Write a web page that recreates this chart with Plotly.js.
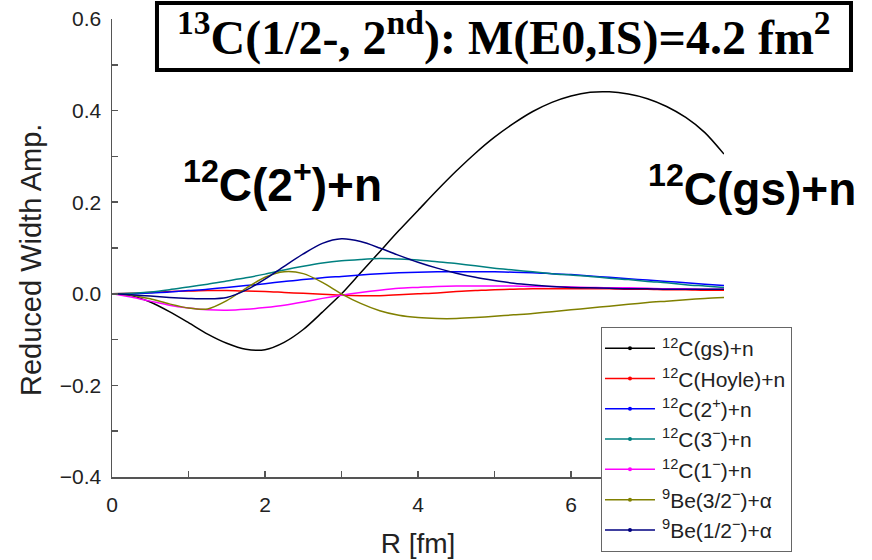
<!DOCTYPE html>
<html>
<head>
<meta charset="utf-8">
<script src="https://cdn.plot.ly/plotly-3.0.1.min.js"></script>
<style>
  html, body { margin: 0; padding: 0; background: #ffffff; }
  #chart { width: 872px; height: 560px; }
</style>
</head>
<body>
<div id="chart"></div>
<script>
// Radial grid R [fm]
const rGrid = [0, 0.25, 0.5, 0.75, 1.0, 1.25, 1.5, 1.75, 2.0, 2.25, 2.5, 2.75,
  3.0, 3.25, 3.5, 3.75, 4.0, 4.25, 4.5, 4.75, 5.0, 5.25, 5.5, 5.75,
  6.0, 6.25, 6.5, 6.75, 7.0, 7.25, 7.5, 7.75, 8.0];

// Reduced width amplitudes for each channel
const c12gs = [0, -0.004, -0.018, -0.039, -0.063, -0.088, -0.108, -0.121, -0.122, -0.106, -0.078, -0.040,
  0.0, 0.046, 0.092, 0.138, 0.182, 0.226, 0.268, 0.307, 0.342, 0.372, 0.398, 0.418,
  0.432, 0.440, 0.441, 0.436, 0.426, 0.409, 0.385, 0.352, 0.305];
const c12hoyle = [0, 0.001, 0.003, 0.005, 0.006, 0.007, 0.007, 0.006, 0.005, 0.003, 0.001, -0.001,
  -0.003, -0.004, -0.004, -0.002, 0.0, 0.002, 0.005, 0.007, 0.009, 0.010, 0.011, 0.011,
  0.011, 0.011, 0.011, 0.010, 0.010, 0.009, 0.009, 0.008, 0.008];
const c12two = [0, 0.0, 0.002, 0.004, 0.007, 0.010, 0.014, 0.018, 0.022, 0.027, 0.031, 0.035,
  0.038, 0.041, 0.044, 0.046, 0.047, 0.048, 0.048, 0.048, 0.048, 0.047, 0.046, 0.044,
  0.042, 0.039, 0.036, 0.033, 0.030, 0.027, 0.024, 0.021, 0.018];
const c12three = [0, 0.001, 0.004, 0.009, 0.015, 0.021, 0.028, 0.035, 0.043, 0.052, 0.060, 0.067,
  0.072, 0.075, 0.077, 0.076, 0.074, 0.070, 0.066, 0.061, 0.056, 0.052, 0.048, 0.044,
  0.041, 0.038, 0.034, 0.031, 0.027, 0.024, 0.020, 0.017, 0.014];
const c12one = [0, -0.007, -0.016, -0.025, -0.031, -0.035, -0.036, -0.034, -0.030, -0.025, -0.018, -0.010,
  -0.003, 0.003, 0.008, 0.012, 0.014, 0.016, 0.017, 0.017, 0.017, 0.017, 0.016, 0.016,
  0.015, 0.014, 0.013, 0.013, 0.012, 0.011, 0.011, 0.010, 0.010];
const be9three = [0, -0.003, -0.011, -0.022, -0.031, -0.033, -0.015, 0.012, 0.036, 0.048, 0.044, 0.025,
  0.0, -0.021, -0.037, -0.047, -0.052, -0.054, -0.054, -0.052, -0.049, -0.046, -0.043, -0.039,
  -0.035, -0.031, -0.027, -0.023, -0.019, -0.016, -0.013, -0.010, -0.008];
const be9one = [0, -0.002, -0.005, -0.008, -0.010, -0.011, -0.008, 0.008, 0.032, 0.060, 0.087, 0.110,
  0.120, 0.114, 0.100, 0.084, 0.069, 0.056, 0.045, 0.036, 0.029, 0.023, 0.019, 0.016,
  0.014, 0.013, 0.012, 0.011, 0.011, 0.010, 0.010, 0.010, 0.010];

const channelNames = [
  '<sup>12</sup>C(gs)+n',
  '<sup>12</sup>C(Hoyle)+n',
  '<sup>12</sup>C(2<sup>+</sup>)+n',
  '<sup>12</sup>C(3<sup>\u2212</sup>)+n',
  '<sup>12</sup>C(1<sup>\u2212</sup>)+n',
  '<sup>9</sup>Be(3/2<sup>\u2212</sup>)+\u03b1',
  '<sup>9</sup>Be(1/2<sup>\u2212</sup>)+\u03b1'
];
const channelValues = [c12gs, c12hoyle, c12two, c12three, c12one, be9three, be9one];
const channelColors = ['#000000', '#ff0000', '#0000ff', '#008080', '#ff00ff', '#808000', '#000080'];

const xTickVals = [0, 2, 4, 6];
const yTickVals = [-0.4, -0.2, 0.0, 0.2, 0.4, 0.6];

const traces = channelNames.map((name, i) => ({
  type: 'scatter',
  mode: 'lines',
  x: rGrid,
  y: channelValues[i],
  name: name,
  legendgroup: 'g' + i,
  line: { color: channelColors[i], width: 1.5, shape: 'spline', smoothing: 0.8 }
}));

const axisColor = '#555555';
const layout = {
  width: 872,
  height: 560,
  margin: { l: 112, r: 148, t: 19, b: 83, autoexpand: false },
  paper_bgcolor: '#ffffff',
  plot_bgcolor: '#ffffff',
  showlegend: true,
  font: { family: 'Liberation Sans, Arial, sans-serif', color: '#222222' },
  xaxis: {
    range: [0, 8],
    tickmode: 'array',
    tickvals: xTickVals,
    ticks: 'inside',
    ticklen: 6,
    tickwidth: 1.5,
    tickcolor: axisColor,
    minor: { dtick: 1, tick0: 0, ticks: 'inside', ticklen: 6, tickwidth: 1.5, tickcolor: axisColor },
    showline: true,
    linecolor: axisColor,
    linewidth: 1.5,
    showgrid: false,
    zeroline: false,
    tickfont: { size: 21, color: '#222222' },
    ticklabelstandoff: 8,
    title: { text: 'R [fm]', font: { size: 28, color: '#222222' }, standoff: 18 }
  },
  yaxis: {
    range: [-0.4, 0.6],
    tickmode: 'array',
    tickvals: yTickVals,
    tickformat: '.1f',
    ticks: 'inside',
    ticklen: 6,
    tickwidth: 1.5,
    tickcolor: axisColor,
    minor: { dtick: 0.1, tick0: 0, ticks: 'inside', ticklen: 6, tickwidth: 1.5, tickcolor: axisColor },
    showline: true,
    linecolor: axisColor,
    linewidth: 1.5,
    showgrid: false,
    zeroline: false,
    tickfont: { size: 21, color: '#222222' },
    ticklabelstandoff: 5
  },
  legend: {
    x: 0.799,
    y: 0.3275,
    xanchor: 'left',
    yanchor: 'top',
    bgcolor: '#ffffff',
    bordercolor: '#666666',
    borderwidth: 1,
    itemwidth: 50,
    tracegroupgap: 0,
    font: { size: 21, color: '#222222' }
  },
  shapes: [{
    type: 'rect',
    xref: 'paper', yref: 'paper',
    x0: 0.0735, x1: 1.2075, y0: 0.8886, y1: 1.035,
    line: { color: '#000000', width: 4 },
    fillcolor: '#ffffff',
    layer: 'above'
  }],
  annotations: [
    {
      xref: 'paper', yref: 'paper',
      x: 0.6405, y: 0.966,
      xanchor: 'center', yanchor: 'middle',
      showarrow: false,
      text: '<sup>13</sup>C(1/2-, 2<sup>nd</sup>): M(E0,IS)=4.2 fm<sup>2</sup>',
      font: { family: 'Liberation Serif, Times New Roman, serif', size: 48, color: '#000000', weight: 'bold' }
    },
    {
      xref: 'paper', yref: 'paper',
      x: (282 - 112) / 612, y: (477 - 182) / 458,
      xanchor: 'center', yanchor: 'middle',
      showarrow: false,
      text: '<sup>12</sup>C(2<sup>+</sup>)+n',
      font: { family: 'Liberation Sans, Arial, sans-serif', size: 46, color: '#000000', weight: 'bold' }
    },
    {
      xref: 'paper', yref: 'paper',
      x: (752 - 112) / 612, y: (477 - 186) / 458,
      xanchor: 'center', yanchor: 'middle',
      showarrow: false,
      text: '<sup>12</sup>C(gs)+n',
      font: { family: 'Liberation Sans, Arial, sans-serif', size: 46, color: '#000000', weight: 'bold' }
    },
    {
      xref: 'paper', yref: 'paper',
      x: (31 - 112) / 612, y: (477 - 260) / 458,
      xanchor: 'center', yanchor: 'middle',
      showarrow: false,
      textangle: -90,
      text: 'Reduced Width Amp.',
      font: { family: 'Liberation Sans, Arial, sans-serif', size: 29, color: '#222222' }
    }
  ]
};

Plotly.newPlot('chart', traces, layout, { staticPlot: true, displayModeBar: false }).then(gd => {
  // Longer legend strokes with a small dot at their centre
  gd.querySelectorAll('.legend .traces').forEach((item, i) => {
    const path = item.querySelector('.legendlines path');
    if (path) path.setAttribute('d', 'M3,0h50');
    const sym = item.querySelector('.legendsymbols');
    if (sym) {
      const dot = document.createElementNS('http://www.w3.org/2000/svg', 'circle');
      dot.setAttribute('cx', 28);
      dot.setAttribute('cy', 0);
      dot.setAttribute('r', 2);
      dot.setAttribute('fill', channelColors[i]);
      sym.appendChild(dot);
    }
  });
});
</script>
</body>
</html>
